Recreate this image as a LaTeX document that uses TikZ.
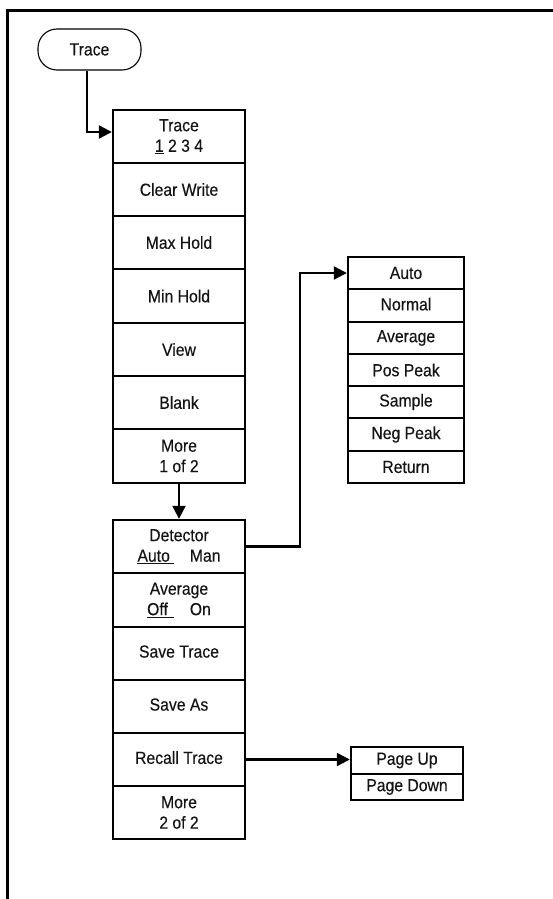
\documentclass[tikz,border=0pt]{standalone}
\usepackage{fontspec}
\setmainfont{Liberation Sans}[FakeStretch=0.9,FakeBold=0.3]
\usetikzlibrary{arrows.meta}
\begin{document}
\begin{tikzpicture}[x=1pt,y=-1pt,
  btn/.style={draw, line width=2.4pt, inner sep=0pt, align=center,
    font=\fontsize{17.5}{20.5}\selectfont, text=black!92},
  colA/.style={btn, minimum width=132pt},
  colR/.style={btn, minimum width=116pt, minimum height=32.3pt},
  colP/.style={btn, minimum width=112pt, minimum height=26.5pt},
  keyoval/.style={draw, line width=1.1pt, rounded corners=19pt, minimum width=103pt,
    minimum height=41pt, inner sep=0pt, font=\fontsize{17.5}{20.5}\selectfont, text=black!92},
  conn/.style={line width=2.2pt},
  arr/.style={conn, -{Triangle[length=13pt,width=13pt]}},
  frame/.style={line width=3pt}]
\useasboundingbox (0,0) rectangle (553,899);
% frame
\coordinate (fr1) at (553,11);
\coordinate (fr2) at (7,11);
\coordinate (fr3) at (7,899);
\draw[frame] (fr1) -- (fr2) -- (fr3);
% key
\node[keyoval] (key) at (89.5,49.5) {Trace};
% column 1
\node[colA, minimum height=53pt] (t1) at (179,136.5) {Trace\\\underline{1} 2 3 4};
\node[colA, minimum height=53pt] (t2) at (179,189.5) {Clear Write};
\node[colA, minimum height=53pt] (t3) at (179,242.5) {Max Hold};
\node[colA, minimum height=54pt] (t4) at (179,296) {Min Hold};
\node[colA, minimum height=53pt] (t5) at (179,349.5) {View};
\node[colA, minimum height=53pt] (t6) at (179,402.5) {Blank};
\node[colA, minimum height=54pt] (t7) at (179,456) {More\\1 of 2};
% column 2
\node[colA, minimum height=53pt] (d1) at (179,546.5) {Detector\\\underline{Auto\hspace{4pt}}\hspace{16pt}Man};
\node[colA, minimum height=54pt] (d2) at (179,600) {Average\\\underline{Off\hspace{6pt}}\hspace{16pt}On};
\node[colA, minimum height=53pt] (d3) at (179,653.5) {\raisebox{4pt}{Save Trace}};
\node[colA, minimum height=53pt] (d4) at (179,706.5) {\raisebox{4pt}{Save As}};
\node[colA, minimum height=53pt] (d5) at (179,759.5) {\raisebox{4pt}{Recall Trace}};
\node[colA, minimum height=53pt] (d6) at (179,812.5) {More\\2 of 2};
% detector menu
\node[colR, minimum height=32pt] (r1) at (406,273) {Auto};
\node[colR, minimum height=33pt] (r2) at (406,305.5) {\raisebox{3pt}{Normal}};
\node[colR, minimum height=32pt] (r3) at (406,338) {Average};
\node[colR, minimum height=32pt] (r4) at (406,370) {Pos Peak};
\node[colR, minimum height=32pt] (r5) at (406,402) {Sample};
\node[colR, minimum height=33pt] (r6) at (406,434.5) {Neg Peak};
\node[colR, minimum height=32pt] (r7) at (406,467) {Return};
% recall menu
\node[colP, minimum height=27pt] (p1) at (407,760.5) {Page Up};
\node[colP, minimum height=26pt] (p2) at (407,787) {Page Down};
% connectors
\coordinate (c1) at (87,132);
\draw[arr] (key.south -| c1) -- (c1) -- (c1 -| t1.west);
\draw[arr] (t7.south) -- (d1.north);
\coordinate (c2) at (300,0);
\draw[arr] (d1.east) -- (d1.east -| c2) |- (r1.west);
\draw[arr] (d5.east) -- (d5.east -| p1.west);
\end{tikzpicture}
\end{document}
